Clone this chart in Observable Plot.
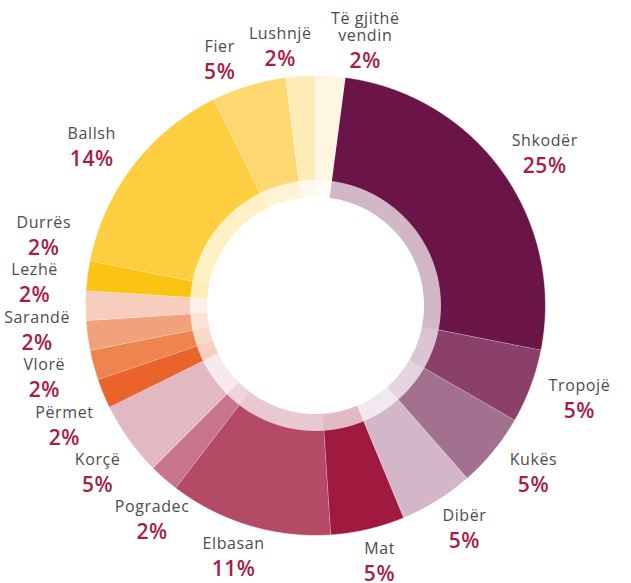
<!DOCTYPE html>
<html><head><meta charset="utf-8">
<script src="https://cdn.jsdelivr.net/npm/d3@7"></script>
<script src="https://cdn.jsdelivr.net/npm/@observablehq/plot@0.6"></script>
<style>
body{margin:0;background:#fff;}
#chart svg text{letter-spacing:0.6px}
</style></head><body><div id="chart"></div>
<script>
// Data (clockwise from 12 o'clock)
const regions = ["Të gjithë\nvendin","Shkodër","Tropojë","Kukës","Dibër","Mat","Elbasan","Pogradec","Korçë","Përmet","Vlorë","Sarandë","Lezhë","Durrës","Ballsh","Fier","Lushnjë"];
const shares = [2,25,5,5,5,5,11,2,5,2,2,2,2,2,14,5,2];
const colors = ["#FEF6E1","#6B1447","#8A4069","#A2718F","#D4B6C9","#A01A40","#B44A66","#C8758B","#E2B8C3","#E9632A","#EE8550","#F2A27B","#F7CDBE","#FBC312","#FDCF40","#FDD870","#FDEBB8"];

// Layout
const W = 631, H = 583, cx = 315, cy = 305, R = 230;
const rMain = 125 / R, rRing = 108.5 / R;
const RX = 282, RY = 262, lcy = cy + 2;   // label ellipse (px)
const nameSize = 16, pctSize = 21, lineH = 1.05;

const total = d3.sum(shares);
let acc = 0;
const slices = shares.map((v, i) => {
  const a0 = acc / total * 2 * Math.PI; acc += v;
  const a1 = acc / total * 2 * Math.PI;
  return {key: i, name: regions[i], pct: v + "%", color: colors[i], a0, a1, mid: (a0 + a1) / 2};
});

function ring(s, rIn, rOut) {
  const n = Math.max(2, Math.ceil((s.a1 - s.a0) / (Math.PI / 360)));
  const angs = d3.range(n + 1).map(k => s.a0 + (s.a1 - s.a0) * k / n);
  const outer = angs.map(a => ({x: rOut * Math.sin(a), y: rOut * Math.cos(a), key: s.key, color: s.color}));
  const inner = angs.slice().reverse().map(a => ({x: rIn * Math.sin(a), y: rIn * Math.cos(a), key: s.key, color: s.color}));
  return outer.concat(inner);
}
const mainPts = slices.flatMap(s => ring(s, rMain, 1));
const ringPts = slices.flatMap(s => ring(s, rRing, rMain));

// Label layout: start at slice mid-angle on an ellipse, relax angles to remove overlaps
const L = slices.map(s => {
  const lines = s.name.split("\n");
  const w = Math.max(d3.max(lines, l => l.length) * (0.58 * nameSize + 0.6), s.pct.length * (0.66 * pctSize));
  const top = 21 + (lines.length - 1) * nameSize * lineH, bottom = 18;
  return {name: s.name, pct: s.pct, th: s.mid, w, top, bottom};
});
const P = th => [cx + RX * Math.sin(th), lcy - RY * Math.cos(th)];
for (let it = 0; it < 1000; it++) {
  let moved = false;
  for (let i = 0; i < L.length; i++) {
    const a = L[i], b = L[(i + 1) % L.length];
    const [ax, ay] = P(a.th), [bx, by] = P(b.th);
    const ox = (a.w + b.w) / 2 + 6 - Math.abs(ax - bx);
    const oy = (ay < by ? a.bottom + b.top : b.bottom + a.top) + 8 - Math.abs(ay - by);
    if (ox > 0 && oy > 0) { a.th -= 0.002; b.th += 0.002; moved = true; }
  }
  if (!moved) break;
}
const labels = L.map(d => {
  let [px, py] = P(d.th);
  px = Math.max(d.w / 2 + 2, Math.min(W - d.w / 2 + 6, px));
  return {name: d.name, pct: d.pct, lx: (px - cx) / R, ly: (cy - py) / R};
});

const font = "Open Sans, Lato, sans-serif";
const chart = Plot.plot({
  width: W, height: H, margin: 0,
  x: {domain: [-1, 1], range: [cx - R, cx + R], axis: null},
  y: {domain: [-1, 1], range: [cy + R, cy - R], axis: null},
  color: {type: "identity"},
  marks: [
    Plot.line(mainPts, {x: "x", y: "y", z: "key", fill: "color", stroke: "white", strokeWidth: 0.6, curve: "linear"}),
    Plot.line(ringPts, {x: "x", y: "y", z: "key", fill: "color", fillOpacity: 0.3, stroke: "none", curve: "linear"}),
    Plot.text(labels, {x: "lx", y: "ly", text: "name", lineAnchor: "bottom", dy: -9, lineHeight: lineH,
      fill: "#4D4D4D", fontSize: nameSize, fontWeight: 500, fontFamily: font}),
    Plot.text(labels, {x: "lx", y: "ly", text: "pct", lineAnchor: "bottom", dy: 18,
      fill: "#A51E48", fontSize: pctSize, fontWeight: 600, fontFamily: font})
  ]
});
document.getElementById("chart").append(chart);
</script></body></html>
